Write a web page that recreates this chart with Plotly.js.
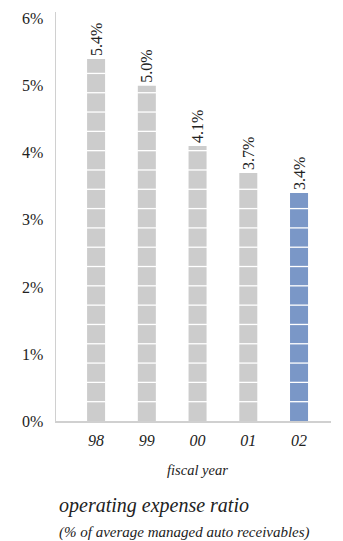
<!DOCTYPE html>
<html>
<head>
<meta charset="utf-8">
<script src="https://cdn.plot.ly/plotly-3.0.1.min.js"></script>
<style>
  html, body { margin: 0; padding: 0; background: #fff; }
  #chart { width: 343px; height: 541px; }
</style>
</head>
<body>
<div id="chart"></div>
<script>
// Operating expense ratio by fiscal year
const years = ['98', '99', '00', '01', '02'];
const ratios = [5.4, 5.0, 4.1, 3.7, 3.4];
const yTicks = [0, 1, 2, 3, 4, 5, 6];
const yTickLabels = ['0%', '1%', '2%', '3%', '4%', '5%', '6%'];

const GRAY = '#cccccc';
const BLUE = '#7a97c7';
const INK = '#222222';
const SERIF = 'Liberation Serif, Times New Roman, serif';
const SEGMENT = 0.288;      // height of one stacked block, in axis units
const BAR_WIDTH = 0.355;

const xIdx = years.map((_, i) => i);

const bars = {
  type: 'bar',
  x: xIdx,
  y: ratios,
  width: BAR_WIDTH,
  marker: { color: years.map((_, i) => i === years.length - 1 ? BLUE : GRAY), line: { width: 0 } },
  text: ratios.map(v => v.toFixed(1) + '%'),
  textposition: 'outside',
  textangle: -90,
  constraintext: 'none',
  cliponaxis: false,
  textfont: { family: SERIF, size: 16, color: INK },
  hoverinfo: 'skip'
};

// white separators that split each bar into blocks
const shapes = [];
ratios.forEach((v, i) => {
  for (let k = 1; k * SEGMENT < v - 0.02; k++) {
    shapes.push({
      type: 'line', xref: 'x', yref: 'y',
      x0: i - BAR_WIDTH / 2 - 0.01, x1: i + BAR_WIDTH / 2 + 0.01,
      y0: k * SEGMENT, y1: k * SEGMENT,
      line: { color: '#ffffff', width: 1.3 },
      layer: 'above'
    });
  }
});

const layout = {
  width: 343,
  height: 541,
  margin: { l: 56, r: 12, t: 12, b: 120 },
  paper_bgcolor: '#ffffff',
  plot_bgcolor: '#ffffff',
  showlegend: false,
  font: { family: SERIF, color: INK },
  xaxis: {
    range: [-0.79, 4.63],
    tickvals: xIdx,
    ticktext: years.map(y => '<i>' + y + '</i>'),
    tickfont: { family: SERIF, size: 16, color: INK },
    showgrid: false,
    zeroline: false,
    showline: true,
    linecolor: '#d0d0d0',
    linewidth: 1.5,
    ticks: '',
    ticklabelstandoff: 4,
    fixedrange: true
  },
  yaxis: {
    range: [0, 6.1],
    tickvals: yTicks,
    ticktext: yTickLabels,
    tickfont: { family: SERIF, size: 16, color: INK },
    showgrid: false,
    zeroline: false,
    showline: true,
    linecolor: '#d0d0d0',
    linewidth: 1.5,
    ticks: '',
    ticklabelstandoff: 8,
    fixedrange: true
  },
  shapes: shapes,
  annotations: [
    {
      text: '<i>fiscal year</i>', xref: 'x', yref: 'paper', x: 2, y: -0.12,
      xanchor: 'center', yanchor: 'middle', showarrow: false,
      font: { family: SERIF, size: 14.5, color: INK }
    },
    {
      text: '<i>operating expense ratio</i>', xref: 'paper', yref: 'paper', x: 0.005, y: -0.207,
      xanchor: 'left', yanchor: 'middle', showarrow: false,
      font: { family: SERIF, size: 20, color: INK }
    },
    {
      text: '<i>(% of average managed auto receivables)</i>', xref: 'paper', yref: 'paper', x: 0.005, y: -0.272,
      xanchor: 'left', yanchor: 'middle', showarrow: false,
      font: { family: SERIF, size: 15, color: INK }
    }
  ]
};

Plotly.newPlot('chart', [bars], layout, { displayModeBar: false, staticPlot: true });
</script>
</body>
</html>
